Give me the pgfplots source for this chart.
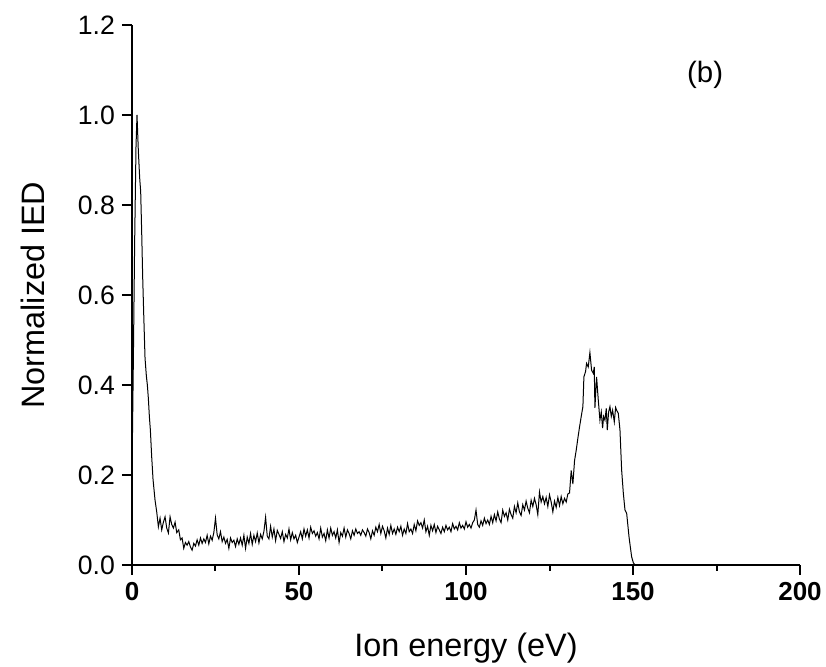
\documentclass[border=0pt]{standalone}
\usepackage{fontspec}
\setmainfont{Liberation Sans}
\usepackage{pgfplots}
\pgfplotsset{compat=1.18}

\pgfplotstableread{
E v
0.0 0.20
0.4 0.45
0.8 0.72
1.2 0.93
1.5 1.00
1.9 0.92
2.3 0.86
2.6 0.83
2.9 0.74
3.2 0.64
3.5 0.56
3.9 0.46
4.3 0.42
4.6 0.40
4.9 0.37
5.2 0.33
5.5 0.30
5.9 0.24
6.3 0.19
6.9 0.144
7.4 0.118
7.9 0.085
8.4 0.104
8.9 0.078
9.4 0.095
9.9 0.107
10.4 0.082
10.9 0.071
11.4 0.107
11.9 0.090
12.4 0.082
12.9 0.095
13.4 0.072
14.0 0.078
14.5 0.056
15.0 0.060
15.5 0.037
16.0 0.050
16.5 0.044
17.0 0.052
17.5 0.040
18.0 0.033
18.5 0.048
19.0 0.042
19.5 0.056
20.0 0.044
20.5 0.060
21.0 0.048
21.5 0.058
22.0 0.050
22.5 0.066
23.0 0.047
23.5 0.064
24.0 0.055
24.5 0.072
25.0 0.104
25.5 0.067
26.0 0.058
26.5 0.074
27.0 0.052
27.5 0.062
28.0 0.048
28.5 0.057
29.0 0.037
29.5 0.060
30.0 0.050
30.5 0.055
31.0 0.041
31.5 0.058
32.0 0.046
32.5 0.060
33.0 0.044
33.5 0.066
34.0 0.037
34.5 0.062
35.0 0.048
35.5 0.070
36.0 0.046
36.5 0.066
37.0 0.052
37.5 0.071
38.0 0.049
38.5 0.068
39.0 0.058
39.5 0.075
40.0 0.106
40.5 0.064
41.0 0.058
41.5 0.086
42.0 0.062
42.5 0.080
43.0 0.054
43.5 0.077
44.0 0.068
44.5 0.059
45.0 0.074
45.5 0.052
46.0 0.068
46.5 0.060
47.0 0.080
47.5 0.056
48.0 0.072
48.5 0.058
49.0 0.066
49.5 0.050
50.0 0.062
50.5 0.074
51.0 0.058
51.5 0.080
52.0 0.064
52.5 0.078
53.0 0.060
53.5 0.084
54.0 0.070
54.5 0.076
55.0 0.064
55.5 0.072
56.0 0.058
56.5 0.082
57.0 0.062
57.5 0.070
58.0 0.054
58.5 0.078
59.0 0.060
59.5 0.082
60.0 0.066
60.5 0.074
61.0 0.060
61.5 0.078
62.0 0.050
62.5 0.072
63.0 0.064
63.5 0.082
64.0 0.062
64.5 0.078
65.0 0.070
65.5 0.058
66.0 0.076
66.5 0.066
67.0 0.080
67.5 0.070
68.0 0.074
68.5 0.066
69.0 0.078
69.5 0.072
70.0 0.064
70.5 0.080
71.0 0.072
71.5 0.058
72.0 0.076
72.5 0.066
73.0 0.084
73.5 0.074
74.0 0.090
74.5 0.070
75.0 0.086
75.5 0.076
76.0 0.060
76.5 0.082
77.0 0.068
77.5 0.088
78.0 0.070
78.5 0.080
79.0 0.068
79.5 0.084
80.0 0.074
80.5 0.086
81.0 0.066
81.5 0.080
82.0 0.070
82.5 0.092
83.0 0.074
83.5 0.080
84.0 0.070
84.5 0.090
85.0 0.076
85.5 0.098
86.0 0.088
86.5 0.094
87.0 0.082
87.5 0.100
88.0 0.074
88.5 0.086
89.0 0.066
89.5 0.088
90.0 0.076
90.5 0.090
91.0 0.072
91.5 0.086
92.0 0.078
92.5 0.070
93.0 0.084
93.5 0.074
94.0 0.088
94.5 0.078
95.0 0.084
95.5 0.074
96.0 0.092
96.5 0.080
97.0 0.086
97.5 0.078
98.0 0.094
98.5 0.082
99.0 0.088
99.5 0.080
100.0 0.096
100.5 0.084
101.0 0.090
101.5 0.082
102.0 0.094
102.5 0.100
103.0 0.122
103.5 0.090
104.0 0.084
104.5 0.098
105.0 0.088
105.5 0.104
106.0 0.092
106.5 0.100
107.0 0.090
107.5 0.108
108.0 0.094
108.5 0.112
109.0 0.098
109.5 0.118
110.0 0.102
110.5 0.094
111.0 0.122
111.5 0.108
112.0 0.116
112.5 0.100
113.0 0.124
113.5 0.112
114.0 0.104
114.5 0.130
115.0 0.116
115.5 0.138
116.0 0.118
116.5 0.110
117.0 0.134
117.5 0.122
118.0 0.142
118.5 0.126
119.0 0.116
119.5 0.144
120.0 0.130
120.5 0.148
121.0 0.134
121.5 0.112
122.0 0.162
122.5 0.140
123.0 0.152
123.5 0.136
124.0 0.150
124.5 0.130
125.0 0.156
125.5 0.140
126.0 0.118
126.5 0.142
127.0 0.128
127.5 0.150
128.0 0.132
128.5 0.152
129.0 0.136
129.5 0.148
130.0 0.140
130.5 0.158
131.0 0.160
131.5 0.210
132.0 0.180
132.5 0.232
133.0 0.255
133.5 0.282
134.0 0.307
134.5 0.330
135.0 0.352
135.3 0.418
135.8 0.430
136.1 0.448
136.6 0.440
137.1 0.472
137.6 0.433
138.1 0.426
138.4 0.440
138.6 0.349
139.1 0.418
139.6 0.367
140.1 0.322
140.5 0.340
140.9 0.304
141.2 0.330
141.6 0.322
142.0 0.348
142.3 0.300
142.7 0.340
143.1 0.352
143.5 0.330
143.9 0.344
144.4 0.318
144.8 0.350
145.1 0.344
145.6 0.337
146.1 0.300
146.6 0.211
147.1 0.160
147.6 0.122
148.1 0.115
148.8 0.063
149.2 0.040
149.6 0.018
150.1 0.005
150.6 0.000
}\ied

\begin{document}
\begin{tikzpicture}
\begin{axis}[
    width=334pt, height=270pt, scale only axis,
    xmin=0, xmax=200, ymin=0, ymax=1.2,
    axis lines*=left,
    axis line style={line width=1pt},
    every tick/.style={black, line width=1pt},
    tick align=outside,
    major tick length=5pt, minor tick length=3pt,
    xtick={0,50,...,200},
    minor xtick={25,75,125,175},
    ytick={0,0.2,0.4,0.6,0.8,1.0,1.2},
    /pgf/number format/assume math mode=true,
    y tick label style={/pgf/number format/fixed, /pgf/number format/fixed zerofill,
        /pgf/number format/precision=1, font=\fontsize{13.3}{15}\selectfont},
    x tick label style={font=\fontsize{13}{15}\selectfont\bfseries},
    xlabel={Ion energy (eV)},
    ylabel={Normalized IED},
    label style={font=\fontsize{16.2}{19}\selectfont},
    xlabel style={at={(axis description cs:0.5,-0.154)}, anchor=center},
    ylabel style={at={(axis description cs:-0.148,0.5)}, anchor=center},
    clip=false,
]
\addplot[black, line width=0.5pt] table[x=E, y=v] {\ied};
\node[font=\fontsize{14.7}{17}\selectfont] at (axis cs:171.6,1.089) {(b)};
\end{axis}
\pgfresetboundingbox
\path[use as bounding box] (-66pt,-51pt) rectangle (347pt,282.5pt);
\end{tikzpicture}
\end{document}
